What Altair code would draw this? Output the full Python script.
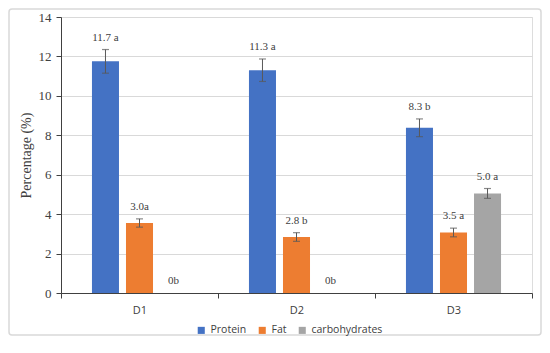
import altair as alt
import pandas as pd

categories = ["D1", "D2", "D3"]
series = ["Protein", "Fat", "carbohydrates"]
protein = [11.75, 11.3, 8.38]
fat = [3.55, 2.84, 3.07]
carb = [0.0, 0.0, 5.05]
protein_err = [0.6, 0.57, 0.45]
fat_err = [0.21, 0.22, 0.22]
carb_err = [0.0, 0.0, 0.25]
protein_lab = ["11.7 a", "11.3 a", "8.3 b"]
fat_lab = ["3.0a", "2.8 b", "3.5 a"]
carb_lab = ["0b", "0b", "5.0 a"]
colors = ["#4472C4", "#ED7D31", "#A5A5A5"]

rows = []
for s, vals, errs, labs in [
    ("Protein", protein, protein_err, protein_lab),
    ("Fat", fat, fat_err, fat_lab),
    ("carbohydrates", carb, carb_err, carb_lab),
]:
    for c, v, e, l in zip(categories, vals, errs, labs):
        rows.append({"cat": c, "series": s, "value": v, "err": e,
                     "lo": v - e, "hi": v + e, "label": l})
df = pd.DataFrame(rows)

W, H = 471, 276
serif = "DejaVu Serif"
sans = "Open Sans"

x = alt.X("cat:N", title=None, sort=categories,
          scale=alt.Scale(paddingInner=0, paddingOuter=0),
          axis=alt.Axis(labelAngle=0, tickBand="extent", labelFont=sans,
                        labelFontSize=11, labelColor="#404040", domainColor="#404040",
                        tickColor="#404040", tickSize=5, labelPadding=6, grid=False))
xo = alt.XOffset("series:N", sort=series,
                 scale=alt.Scale(paddingInner=0.206, paddingOuter=0.91))
yscale = alt.Scale(domain=[0, 14])
yaxis = alt.Axis(values=[0, 2, 4, 6, 8, 10, 12, 14], labelFont="Liberation Serif",
                 labelFontSize=13, labelPadding=5,
                 labelColor="#404040", titleFont="Liberation Serif", titleFontSize=14,
                 titleFontWeight="normal", titleColor="#404040",
                 domainColor="#404040", tickColor="#404040", tickSize=5,
                 gridColor="#D9D9D9", titlePadding=5, labelOverlap=False)
ytitle = "Percentage (%)"


def Y(field):
    return alt.Y(field, scale=yscale, title=ytitle, axis=yaxis)


base = alt.Chart(df)

bars = base.mark_bar().encode(
    x=x, xOffset=xo, y=Y("value:Q"),
    color=alt.Color("series:N", sort=series,
                    scale=alt.Scale(domain=series, range=colors),
                    legend=alt.Legend(title=None, orient="none", legendX=135, legendY=308,
                                      direction="horizontal", symbolType="square",
                                      symbolSize=50, symbolStrokeWidth=0,
                                      labelFont=sans, labelFontSize=10.5,
                                      labelColor="#404040", columnPadding=10,
                                      symbolOffset=0)),
)

errs = base.transform_filter("datum.err > 0")
rule = errs.mark_rule(color="#595959", strokeWidth=1).encode(
    x=x, xOffset=xo, y=Y("lo:Q"), y2="hi:Q")
cap_hi = errs.mark_tick(color="#595959", size=7, thickness=1.2).encode(
    x=x, xOffset=xo, y=Y("hi:Q"))
cap_lo = errs.mark_tick(color="#595959", size=7, thickness=1.2).encode(
    x=x, xOffset=xo, y=Y("lo:Q"))

text = base.mark_text(font="Liberation Serif", fontSize=11, color="#404040", dy=-12).encode(
    x=x, xOffset=xo, y=Y("hi:Q"), text="label:N")

border = alt.Chart(pd.DataFrame({"k": [0]})).mark_rect(
    fill=None, stroke="#D9D9D9", strokeWidth=1.5, cornerRadius=3).encode(
    x=alt.value(-52), x2=alt.value(W + 9), y=alt.value(-8), y2=alt.value(H + 42))

chart = alt.layer(bars, rule, cap_hi, cap_lo, text, border).properties(
    width=W, height=H,
    autosize=alt.AutoSizeParams(type="none"),
    padding={"left": 53, "top": 9, "right": 10, "bottom": 44},
).configure_view(stroke=None).configure(background="white")

chart.save("out.html", embed_options={"renderer": "svg", "actions": False})
